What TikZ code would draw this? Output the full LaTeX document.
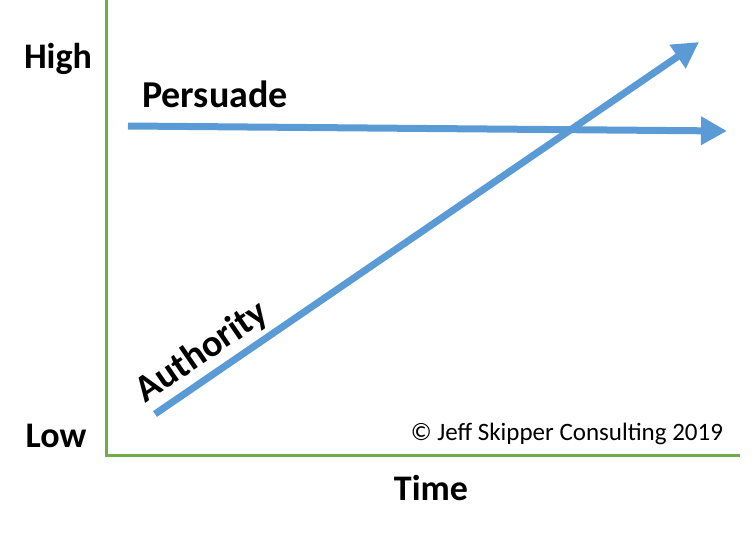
\documentclass[tikz,border=0pt]{standalone}
\usepackage{fontspec}
\setmainfont{Carlito}
\usetikzlibrary{arrows.meta}
\definecolor{axisgreen}{HTML}{70AD47}
\definecolor{arrowblue}{HTML}{5B9BD5}
\begin{document}
\begin{tikzpicture}[x=1pt,y=-1pt,
  axisline/.style={draw=axisgreen,line width=3pt},
  trend/.style={draw=arrowblue,line width=7pt,-{Triangle[length=26pt,width=27pt]}},
  bigtxt/.style={font=\fontsize{36}{40}\selectfont\bfseries,inner sep=0pt,anchor=base},
  labtxt/.style={font=\fontsize{38}{42}\selectfont\bfseries,inner sep=0pt,anchor=base},
  smalltxt/.style={font=\fontsize{25}{29}\selectfont,inner sep=0pt,anchor=base}]
\useasboundingbox (0,0) rectangle (755,533);
\coordinate (ytop) at (106,0);
\coordinate (origin) at (106,455);
\coordinate (xend) at (740,455);
\draw[axisline] (ytop) -- (origin) -- (xend);
\coordinate (ps) at (128,126);
\coordinate (pe) at (727,131);
\draw[trend] (ps) -- (pe);
\coordinate (as) at (155,414);
\coordinate (ae) at (699,42);
\draw[trend] (as) -- (ae);
\node[bigtxt] (high) at (58,68) {High};
\node[bigtxt] (low) at (56,447) {Low};
\node[labtxt] (pers) at (215,107) {Persuade};
\node[bigtxt] (time) at (431,500) {Time};
\node[labtxt,rotate=34.4,anchor=base] (auth) at (208,361) {Authority};
\node[smalltxt] (copy) at (567,440) {© Jeff Skipper Consulting 2019};
\end{tikzpicture}
\end{document}
